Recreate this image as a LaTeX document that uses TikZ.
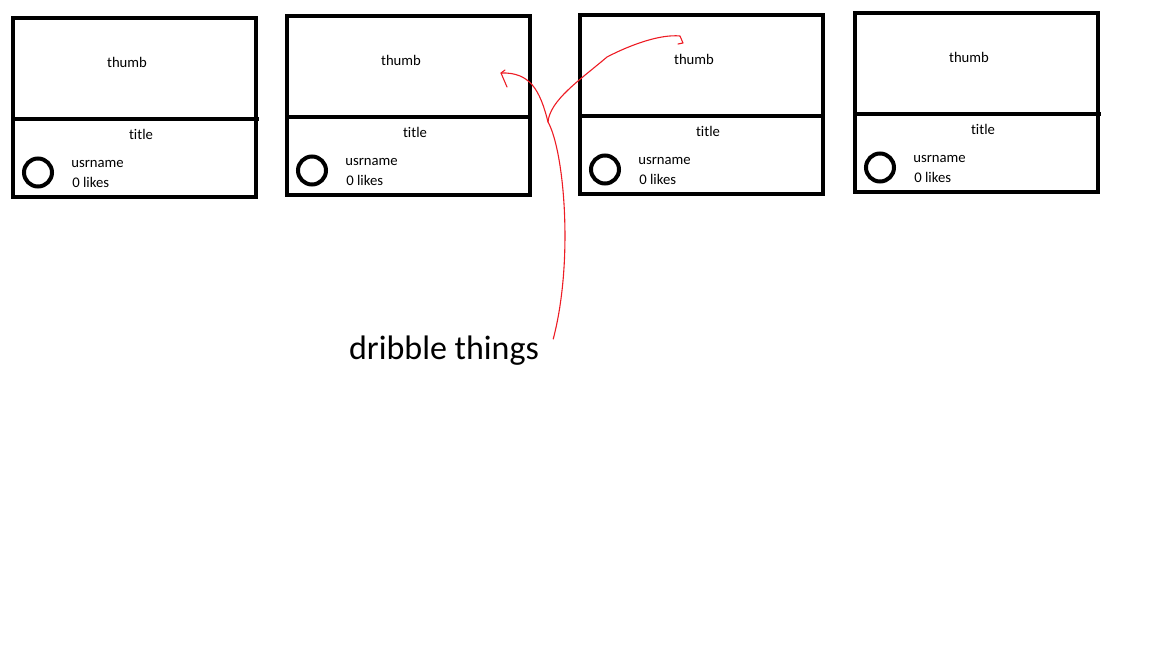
\documentclass[tikz,border=0pt]{standalone}
\usepackage{fontspec}
\setmainfont[Ligatures=NoCommon]{Carlito}
\usetikzlibrary{calc,positioning}
\definecolor{paintred}{RGB}{237,28,36}

\begin{document}
\begin{tikzpicture}[x=1pt, y=-1pt, semithick]

    \tikzstyle{card} = [rectangle, draw=black, line width=4pt, minimum width=243pt, minimum height=179pt, inner sep=0pt, outer sep=0pt]
    \tikzstyle{avatar} = [circle, draw=black, line width=4pt, minimum size=28pt, inner sep=0pt]
    \tikzstyle{lbl} = [font=\fontsize{14.7}{16}\selectfont, inner sep=0pt]
    \tikzstyle{info} = [lbl, anchor=west]
    \tikzstyle{divider} = [line width=4pt]
    \tikzstyle{scribble} = [draw=paintred, line width=1.1pt, line join=round, line cap=round]

    \useasboundingbox (0,0) rectangle (1152,648);

    \node (card1)  [card]  at (134.5,107)  {};
    \node (card2)  [card]  at (408.5,105)  {};
    \node (card3)  [card]  at (701.5,104)  {};
    \node (card4)  [card]  at (976.5,102)  {};

    % card 1
    \draw[divider] ($(card1.north west)+(0,101)$) -- ($(card1.north east)+(3,101)$);
    \node (thumb1)  [lbl]     at ($(card1.north west)+(114,45)$)   {thumb};
    \node (title1)  [lbl]     at ($(card1.north west)+(128,117)$)  {title};
    \node (avatar1) [avatar]  at ($(card1.north west)+(25,155)$)   {};
    \node (user1)   [info]    at ($(card1.north west)+(58,146)$)   {usrname};
    \node (likes1)  [info]    at ($(card1.north west)+(59,165)$)   {0 likes};

    % card 2
    \draw[divider] ($(card2.north west)+(0,101)$) -- ($(card2.north east)+(0,101)$);
    \node (thumb2)  [lbl]     at ($(card2.north west)+(114,45)$)   {thumb};
    \node (title2)  [lbl]     at ($(card2.north west)+(128,117)$)  {title};
    \node (avatar2) [avatar]  at ($(card2.north west)+(25,155)$)   {};
    \node (user2)   [info]    at ($(card2.north west)+(58,146)$)   {usrname};
    \node (likes2)  [info]    at ($(card2.north west)+(59,165)$)   {0 likes};

    % card 3
    \draw[divider] ($(card3.north west)+(0,101)$) -- ($(card3.north east)+(2,101)$);
    \node (thumb3)  [lbl]     at ($(card3.north west)+(114,45)$)   {thumb};
    \node (title3)  [lbl]     at ($(card3.north west)+(128,117)$)  {title};
    \node (avatar3) [avatar]  at ($(card3.north west)+(25,155)$)   {};
    \node (user3)   [info]    at ($(card3.north west)+(58,146)$)   {usrname};
    \node (likes3)  [info]    at ($(card3.north west)+(59,165)$)   {0 likes};

    % card 4
    \draw[divider] ($(card4.north west)+(0,101)$) -- ($(card4.north east)+(3,101)$);
    \node (thumb4)  [lbl]     at ($(card4.north west)+(114,45)$)   {thumb};
    \node (title4)  [lbl]     at ($(card4.north west)+(128,117)$)  {title};
    \node (avatar4) [avatar]  at ($(card4.north west)+(25,155)$)   {};
    \node (user4)   [info]    at ($(card4.north west)+(58,146)$)   {usrname};
    \node (likes4)  [info]    at ($(card4.north west)+(59,165)$)   {0 likes};

    \node (dribble) [font=\fontsize{34}{40}\selectfont, inner sep=0pt] at (444,351) {dribble things};

    \coordinate (tail)     at ($(dribble.east)+(14,-12)$);
    \coordinate (fork)     at (548,122);
    \coordinate (tipleft)  at (501,73);
    \coordinate (tipright) at (683,43);

    \draw[scribble] (tail) .. controls (574,260) and (564,150) .. (fork)
                           .. controls (540,90) and (530,72) .. (tipleft) -- ++(6,14);
    \draw[scribble] (tipleft) -- ++(4,-3);
    \draw[scribble] (fork) .. controls (550,100) and (580,80) .. (607,57)
                           .. controls (630,45) and (660,34) .. (680,36) -- (tipright) -- ++(-5,1);
\end{tikzpicture}
\end{document}
